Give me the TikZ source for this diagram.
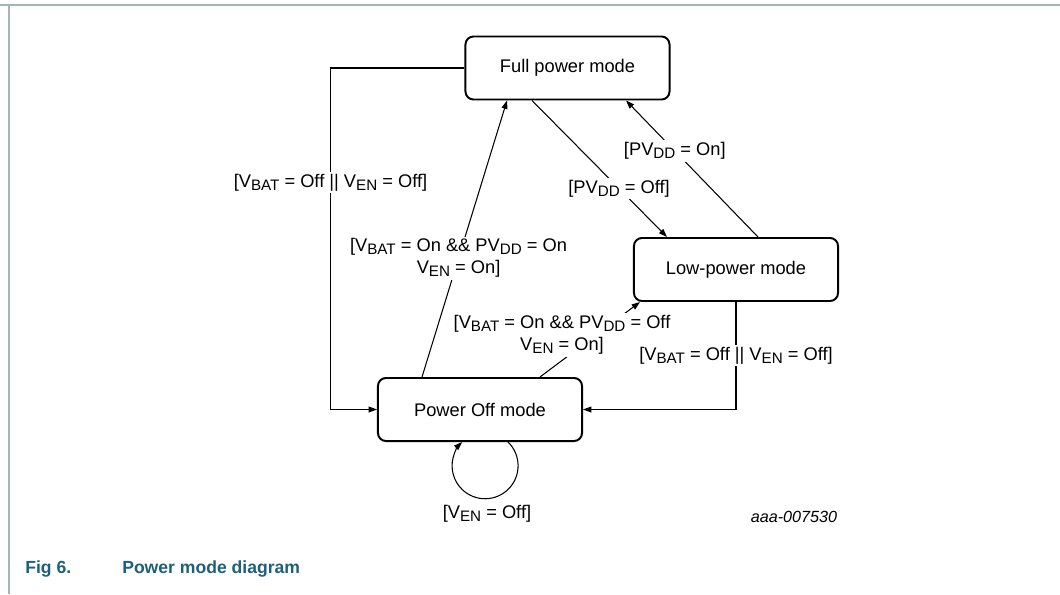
\documentclass[tikz,border=0pt]{standalone}
\usepackage{fontspec}
\setmainfont{Liberation Sans}
\usetikzlibrary{arrows.meta,calc}
\definecolor{framegray}{RGB}{160,184,180}
\definecolor{captionblue}{RGB}{30,96,122}
\newcommand{\lsub}[1]{\raisebox{-2.2pt}{\fontsize{10.8}{10.8}\selectfont #1}}

\begin{document}
\begin{tikzpicture}[x=0.025cm, y=-0.025cm,
    state/.style={draw, line width=1.4pt, rounded corners=0.2cm, minimum width=5.1cm,
      minimum height=1.575cm, inner sep=0pt, font=\fontsize{13}{15.6}\selectfont},
    trans/.style={line width=0.75pt, -{Triangle[length=6pt,width=4.2pt]}},
    lab/.style={fill=white, inner sep=1.5pt, align=center, font=\fontsize{13}{15.6}\selectfont}]
  \useasboundingbox (0,0) rectangle (1060,594);
  % page frame
  \draw[framegray, line width=1.5pt] (0,5) -- (1060,5);
  \draw[framegray, line width=2pt] (9,5) -- (9,594);
  % States
  \node[state] (full) at (567.5,68) {Full power mode};
  \node[state] (low) at (736,269.5) {Low-power mode};
  \node[state] (off) at (480,409.5) {Power Off mode};
  % Transitions
  \draw[trans] (full.west) -- ++(-134,0) |- (off.west)
    node[lab, pos=0.168] {[V\lsub{BAT} = Off || V\lsub{EN} = Off]};
  \draw[trans] ($(full.south)+(-35.5,0)$) -- ($(low.north)+(-69,0)$)
    node[lab, pos=0.645] {[PV\lsub{DD} = Off]};
  \draw[trans] ($(low.north)+(22,0)$) -- ($(full.south)+(58.5,0)$)
    node[lab, pos=0.63] {[PV\lsub{DD} = On]};
  \draw[trans] ($(off.north)+(-58,0)$) -- ($(full.south)+(-60.5,0)$)
    node[lab, pos=0.43] {[V\lsub{BAT} = On \&\& PV\lsub{DD} = On\\V\lsub{EN} = On]};
  \draw[trans] ($(off.north)+(60,0)$) -- ($(low.south west)+(7,0)$);
  \node[lab] (offlow) at (562,335) {[V\lsub{BAT} = On \&\& PV\lsub{DD} = Off\\V\lsub{EN} = On]};
  \draw[trans] (low.south) |- (off.east)
    node[lab, pos=0.25] {[V\lsub{BAT} = Off || V\lsub{EN} = Off]};
  % self loop
  \draw[trans] ($(off.south)+(28,0)$) arc[start angle=-46, end angle=226, radius=33];
  \node[lab] (offloop) at ($(off.south)+(7,72)$) {[V\lsub{EN} = Off]};
  % figure id and caption
  \node[font=\itshape\fontsize{11.5}{12}\selectfont] (figid) at (794,517) {aaa-007530};
  \node[anchor=base west, inner sep=0pt, text=captionblue,
    font=\bfseries\fontsize{12.5}{14}\selectfont] (figno) at (25,573) {Fig 6.};
  \node[anchor=base west, inner sep=0pt, text=captionblue,
    font=\bfseries\fontsize{12.5}{14}\selectfont] (figtitle) at (122,573) {Power mode diagram};
\end{tikzpicture}
\end{document}
